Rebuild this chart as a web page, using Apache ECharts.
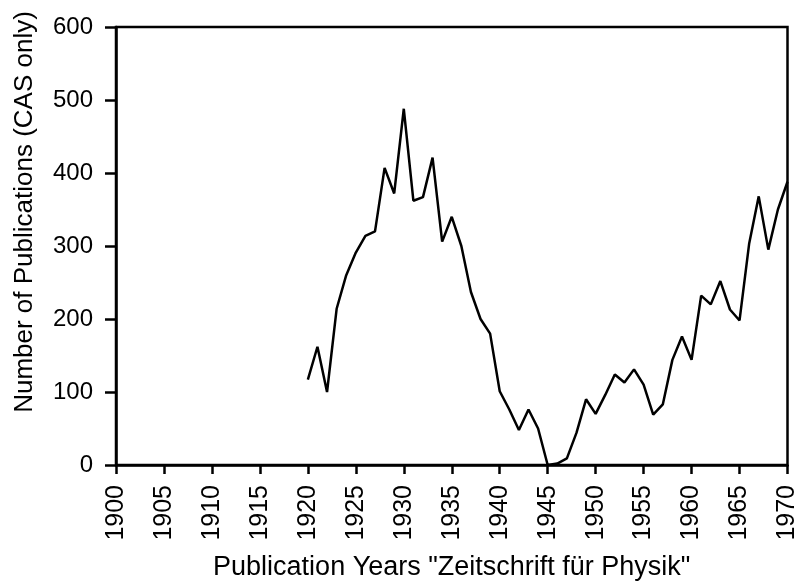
<!DOCTYPE html>
<html>
<head>
<meta charset="utf-8">
<script src="https://cdn.jsdelivr.net/npm/echarts@6/dist/echarts.min.js"></script>
<style>
  html, body { margin: 0; padding: 0; background: #fff; }
  #main { width: 800px; height: 586px; }
</style>
</head>
<body>
<div id="main"></div>
<script>
var years = [1920, 1921, 1922, 1923, 1924, 1925, 1926, 1927, 1928, 1929,
             1930, 1931, 1932, 1933, 1934, 1935, 1936, 1937, 1938, 1939,
             1940, 1941, 1942, 1943, 1944, 1945, 1946, 1947, 1948, 1949,
             1950, 1951, 1952, 1953, 1954, 1955, 1956, 1957, 1958, 1959,
             1960, 1961, 1962, 1963, 1964, 1965, 1966, 1967, 1968, 1969, 1970];
var publications = [117, 162, 100, 214, 260, 291, 314, 320, 407, 372,
                    488, 362, 367, 421, 306, 340, 300, 237, 200, 180,
                    101, 76, 48, 76, 50, 0, 2, 9, 44, 90,
                    70, 96, 124, 113, 131, 110, 69, 83, 144, 176,
                    144, 232, 220, 252, 213, 198, 303, 368, 295, 350, 388];

var font = 'Liberation Sans, Arial, sans-serif';

function setData() {
    var result = [];
    for (var i = 0; i < years.length; i++) {
        result.push([years[i], publications[i]]);
    }
    return result;
}

var chart = echarts.init(document.getElementById("main"));

option = {
    animation: false,
    backgroundColor: '#fff',
    grid: {
        left: 116,
        right: 12,
        top: 27,
        bottom: 119,
        show: true,
        borderColor: '#000',
        borderWidth: 2.5
    },
    xAxis: {
        type: 'value',
        min: 1900,
        max: 1970,
        interval: 5,
        name: 'Publication Years "Zeitschrift für Physik"',
        nameLocation: 'middle',
        nameGap: 89,
        nameTextStyle: { color: '#000', fontSize: 27, fontFamily: font },
        axisLine: { lineStyle: { color: '#000', width: 2.5 } },
        axisTick: { inside: false, length: 9, lineStyle: { color: '#000', width: 2.5 } },
        axisLabel: {
            rotate: 90, color: '#000', fontSize: 25, fontFamily: font, margin: 20,
            formatter: function (v) { return String(v); }
        },
        splitLine: { show: false }
    },
    yAxis: {
        type: 'value',
        min: 0,
        max: 600,
        interval: 100,
        name: 'Number of Publications (CAS only)',
        nameLocation: 'middle',
        nameGap: 78,
        // the title sits higher than the axis centre in the original
        nameTextStyle: { color: '#000', fontSize: 26, fontFamily: font, padding: [0, 0, 0, 68] },
        axisLine: { show: true, lineStyle: { color: '#000', width: 2.5 } },
        axisTick: { show: true, inside: false, length: 11, lineStyle: { color: '#000', width: 2.5 } },
        axisLabel: { color: '#000', fontSize: 24, fontFamily: font, margin: 23 },
        splitLine: { show: false }
    },
    series: [
        {
            type: 'line',
            data: setData(),
            symbol: 'none',
            lineStyle: { color: '#000', width: 2.5 }
        }
    ]
};

chart.setOption(option);
</script>
</body>
</html>
